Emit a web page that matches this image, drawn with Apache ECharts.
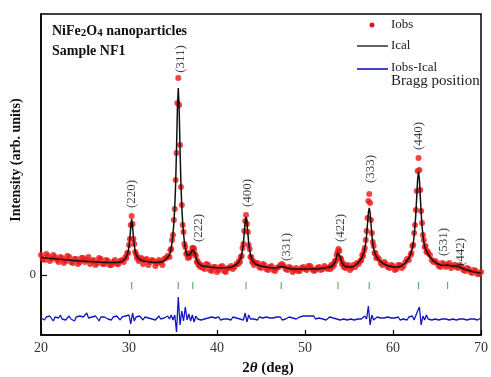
<!DOCTYPE html>
<html>
<head>
<meta charset="utf-8">
<script src="https://cdn.jsdelivr.net/npm/echarts@6/dist/echarts.min.js"></script>
<style>
  html, body { margin: 0; padding: 0; background: #fff; }
  #chart { width: 491px; height: 377px; }
</style>
</head>
<body>
<div id="chart"></div>
<script>
// 2theta grid of the observed / calculated profile (finer around the peaks)
const twoTheta = [
  20.0, 20.2, 20.4, 20.6, 20.8, 21.0, 21.2, 21.4, 21.6, 21.8, 22.0, 22.2, 22.4, 22.6, 22.8, 23.0, 23.2, 23.4, 23.6, 23.8,
  24.0, 24.2, 24.4, 24.6, 24.8, 25.0, 25.2, 25.4, 25.6, 25.8, 26.0, 26.2, 26.4, 26.6, 26.8, 27.0, 27.2, 27.4, 27.6, 27.8,
  28.0, 28.2, 28.4, 28.6, 28.8, 29.0, 29.2,
  29.4, 29.6, 29.7, 29.8, 29.9, 30.0, 30.1, 30.2, 30.3, 30.4, 30.5, 30.6, 30.7, 30.8, 30.9, 31.0, 31.1, 31.2,
  31.4, 31.6, 31.8, 32.0, 32.2, 32.4, 32.6, 32.8, 33.0, 33.2, 33.4, 33.6, 33.8, 34.0, 34.2, 34.4,
  34.6, 34.7, 34.8, 34.9, 35.0, 35.1, 35.2, 35.3, 35.4, 35.5, 35.6, 35.7, 35.8, 35.9, 36.0, 36.1, 36.2, 36.3, 36.4, 36.5,
  36.6, 36.7, 36.8, 36.9, 37.0, 37.1, 37.2, 37.3, 37.4, 37.5, 37.6, 37.7, 37.8, 37.9, 38.0, 38.1, 38.2,
  38.4, 38.6, 38.8, 39.0, 39.2, 39.4, 39.6, 39.8, 40.0, 40.2, 40.4, 40.6, 40.8, 41.0, 41.2, 41.4, 41.6, 41.8, 42.0, 42.2,
  42.4, 42.5, 42.6, 42.7, 42.8, 42.9, 43.0, 43.1, 43.2, 43.3, 43.4, 43.5, 43.6, 43.7, 43.8, 43.9, 44.0, 44.1, 44.2,
  44.4, 44.6, 44.8, 45.0, 45.2, 45.4, 45.6, 45.8, 46.0, 46.2, 46.4, 46.6, 46.8, 47.0, 47.2, 47.4, 47.6, 47.8, 48.0, 48.2,
  48.4, 48.6, 48.8, 49.0, 49.2, 49.4, 49.6, 49.8, 50.0, 50.2, 50.4, 50.6, 50.8, 51.0, 51.2, 51.4, 51.6, 51.8, 52.0, 52.2,
  52.4, 52.6, 52.8,
  52.9, 53.0, 53.1, 53.2, 53.3, 53.4, 53.5, 53.6, 53.7, 53.8, 53.9, 54.0, 54.1, 54.2, 54.3, 54.4, 54.5, 54.6, 54.7,
  54.9, 55.1, 55.3, 55.5, 55.7, 55.9, 56.1, 56.3,
  56.4, 56.5, 56.6, 56.7, 56.8, 56.9, 57.0, 57.1, 57.2, 57.3, 57.4, 57.5, 57.6, 57.7, 57.8, 57.9, 58.0, 58.1, 58.2,
  58.4, 58.6, 58.8, 59.0, 59.2, 59.4, 59.6, 59.8, 60.0, 60.2, 60.4, 60.6, 60.8, 61.0, 61.2, 61.4, 61.6, 61.8, 62.0,
  62.1, 62.2, 62.3, 62.4, 62.5, 62.6, 62.7, 62.8, 62.9, 63.0, 63.1, 63.2, 63.3, 63.4, 63.5, 63.6, 63.7, 63.8, 63.9,
  64.0, 64.2, 64.4, 64.6, 64.8, 65.0, 65.2, 65.4, 65.6, 65.8, 66.0, 66.2, 66.4, 66.6, 66.8, 67.0, 67.2, 67.4, 67.6, 67.8,
  68.0, 68.2, 68.4, 68.6, 68.8, 69.0, 69.2, 69.4, 69.6, 69.8, 70.0
];
const iCal = [
  17.5, 17.4, 17.2, 17.0, 16.8, 16.6, 16.5, 16.3, 16.2, 16.0, 15.8, 15.6, 15.5, 15.3, 15.2, 15.0, 14.9, 14.7, 14.6, 14.4,
  14.3, 14.1, 14.0, 13.9, 13.8, 13.7, 13.6, 13.5, 13.4, 13.3, 13.2, 13.1, 13.0, 12.9, 12.8, 12.7, 12.6, 12.5, 12.5, 12.4,
  12.4, 12.4, 12.5, 12.6, 12.8, 13.1, 13.5,
  14.5, 16.5, 18, 20, 23.5, 28.5, 37, 48, 56, 49, 38, 29.5, 24, 20.5, 18.5, 17, 16, 15.2,
  14.6, 14.2, 13.8, 13.5, 13.2, 13.0, 12.8, 12.6, 12.5, 12.4, 12.4, 12.6, 13.2, 14.5, 15.8, 17.5,
  20, 23, 27, 33, 41, 52, 68, 91, 126, 166, 187, 166, 126, 91, 68, 52, 41, 33, 27, 23,
  20, 19, 19, 20, 21, 23, 25.5, 26.5, 25, 22, 18, 15, 13, 11.5, 10.5, 10, 9.5,
  9.1, 8.8, 8.5, 8.2, 8.0, 7.8, 7.6, 7.5, 7.4, 7.3, 7.2, 7.2, 7.2, 7.3, 7.4, 7.6, 8.0, 8.5, 9.3, 10.5,
  12, 13.5, 15, 17, 20.5, 25.4, 32.5, 42.3, 53, 58, 53, 42.3, 32.5, 25.4, 20.5, 17, 15, 13.5, 12,
  10.8, 10, 9.5, 9, 8.6, 8.2, 7.9, 7.6, 7.4, 7.2, 7.1, 7.0, 7.2, 7.5, 8.3, 9, 8.3, 7.5, 7.0, 6.5,
  6.3, 6.2, 6.1, 6.0, 6.0, 6.0, 6.0, 6.0, 6.0, 6.0, 6.0, 6.0, 6.0, 6.0, 6.1, 6.2, 6.3, 6.5, 6.7, 7.0,
  7.3, 7.8, 8.0,
  8.2, 8.6, 9, 9.6, 10.8, 12.5, 15, 18.5, 22, 24, 22, 18.5, 15, 12.5, 10.8, 9.6, 9, 8.6, 8.2,
  7.9, 7.8, 8.0, 8.5, 9.5, 11, 12.8, 15,
  16, 18, 20, 22.5, 26.5, 32, 40, 51, 62, 67, 62, 51, 40, 32, 26.5, 23, 20.5, 18.5, 17,
  15, 13.3, 12, 10.9, 10, 9.3, 8.8, 8.4, 8, 7.9, 7.8, 8.0, 8.5, 9.3, 10.5, 12, 14, 17, 21,
  24, 27, 31.5, 39, 49, 62, 79, 96, 103, 96, 79, 62, 49, 40, 33, 29, 26, 24, 22,
  20, 18, 16, 14, 12.6, 11.5, 10.6, 10, 9.7, 9.5, 9.7, 10, 9.6, 9.1, 8.9, 9, 9.1, 8.5, 7.8, 7,
  6.2, 5.5, 5, 4.5, 4, 3.5, 3.1, 2.8, 2.5, 2.2, 2
];
const iObs = [
  20, 16, 15, 21, 19, 14, 16, 20, 18, 15, 13, 18, 17, 12, 14, 19, 18, 13, 12, 16,
  16, 11, 13, 17, 17, 13, 15, 18, 11, 14, 15, 10, 12, 17, 16, 11, 11, 15, 14, 10,
  10, 13, 15, 11, 11, 14, 15,
  13, 18, 17, 22, 22, 30, 36, 50, 59, 51, 36, 31, 23, 21, 17, 18, 14, 16,
  17, 11, 15, 16, 10, 13, 15, 14, 9, 12, 15, 13, 10, 16, 17, 19,
  18, 25, 26, 35, 40, 55, 66, 95, 122, 172, 197, 170, 130, 88, 70, 50, 43, 31, 28, 21,
  22, 17, 19, 18, 22, 22, 27, 27, 26, 21, 19, 13, 14, 10, 11, 8, 10,
  7, 6, 11, 10, 5, 4, 8, 8, 3, 5, 8, 9, 4, 3, 7, 7, 9, 6, 8, 11,
  11, 14, 13, 18, 19, 27, 31, 44, 54, 60, 51, 43, 30, 26, 18, 18, 13, 14, 10,
  12, 12, 8, 7, 11, 10, 6, 5, 8, 9, 5, 4, 7, 8, 10, 11, 9, 6, 5, 8,
  7, 3, 5, 7, 4, 4, 7, 8, 6, 5, 9, 9, 6, 4, 5, 7, 8, 5, 6, 9,
  7, 6, 8,
  6, 10, 8, 11, 10, 14, 14, 20, 23, 26, 24, 17, 16, 11, 12, 8, 10, 7, 9,
  10, 5, 7, 10, 8, 12, 11, 14,
  15, 20, 19, 24, 27, 35, 44, 57, 74, 81, 72, 55, 42, 33, 29, 22, 22, 17, 18,
  16, 12, 10, 13, 11, 8, 7, 10, 9, 5, 6, 10, 10, 7, 9, 13, 16, 15, 20,
  22, 29, 30, 42, 50, 65, 84, 104, 117, 105, 85, 64, 52, 40, 35, 28, 29, 23, 24,
  22, 20, 15, 13, 14, 12, 9, 8, 12, 11, 8, 10, 12, 7, 9, 10, 8, 7, 10, 8,
  5, 4, 7, 6, 3, 2, 5, 4, 1, 1, 3
];

// difference curve (offset below zero), one value every 0.2 deg from 20 to 70
const diffStart = 20;
const diffStep = 0.2;
const iDiff = [
  -43, -41, -45, -42, -44, -41, -43, -46, -42, -44,
  -43, -40, -44, -42, -45, -43, -41, -44, -43, -46,
  -42, -44, -41, -43, -42, -40, -38, -43, -45, -42,
  -44, -41, -43, -46, -42, -44, -42, -40, -44, -43,
  -45, -42, -44, -41, -43, -45, -42, -44, -41, -43,
  -40, -49, -38, -46, -42, -44, -41, -43, -45, -42,
  -44, -43, -41, -44, -42, -45, -43, -41, -44, -42,
  -43, -45, -41, -44, -40, -45, -40, -57, -22, -50,
  -36, -46, -32, -45, -39, -46, -40, -47, -41, -44,
  -42, -45, -43, -44, -42, -43, -45, -42, -44, -43,
  -44, -42, -45, -43, -44, -42, -44, -43, -45, -42,
  -44, -43, -41, -44, -42, -45, -38, -47, -40, -44,
  -42, -44, -43, -45, -42, -44, -43, -45, -42, -44,
  -43, -45, -43, -44, -42, -44, -42, -45, -43, -44,
  -43, -42, -44, -43, -42, -44, -43, -42, -43, -41,
  -40, -41, -42, -41, -43, -41, -44, -42, -43, -41,
  -44, -42, -45, -43, -42, -44, -43, -41, -44, -42,
  -45, -43, -44, -42, -45, -43, -44, -42, -45, -43,
  -44, -42, -44, -43, -41, -44, -31, -50, -40, -45,
  -46, -42, -44, -43, -45, -43, -44, -42, -44, -43,
  -45, -43, -44, -42, -45, -43, -44, -43, -45, -42,
  -44, -41, -45, -44, -36, -32, -50, -41, -45, -40,
  -44, -42, -45, -43, -44, -42, -45, -43, -44, -42,
  -44, -43, -45, -43, -44, -42, -45, -43, -44, -42,
  -44, -43, -45, -43, -44, -42, -44, -43, -45, -44,
  -43
];

// Bragg reflections
const braggPos = [30.3, 35.6, 37.25, 43.3, 47.3, 53.75, 57.3, 62.9, 66.2];
const braggLevel = -10.5;

// hkl labels and where they sit
const hklNames = ['(220)', '(311)', '(222)', '(400)', '(331)', '(422)', '(333)', '(440)', '(531)', '(442)'];
const hklX = [30.34, 35.84, 37.87, 43.48, 47.87, 54.04, 57.45, 62.92, 65.73, 67.64];
const hklY = [81, 216, 47, 82, 28, 47, 106, 139, 33, 23];

const xTicks = [20, 30, 40, 50, 60, 70];

const serif = '"Liberation Serif", "Times New Roman", serif';

const chart = echarts.init(document.getElementById('chart'));

const option = {
  animation: false,
  backgroundColor: '#fff',
  grid: {
    left: 41, right: 5, top: 14, bottom: 42,
    show: true, borderColor: '#000', borderWidth: 1.5,
  },
  xAxis: {
    type: 'value',
    min: xTicks[0],
    max: xTicks[xTicks.length - 1],
    interval: 10,
    axisLine: { onZero: false, lineStyle: { color: '#000', width: 1.5 } },
    axisTick: { inside: true, length: 5, lineStyle: { color: '#000', width: 1.2 } },
    axisLabel: { color: '#333', fontFamily: serif, fontSize: 14, margin: 6 },
    splitLine: { show: false },
  },
  yAxis: {
    type: 'value',
    min: -60,
    max: 261,
    axisLine: { show: true, onZero: false, lineStyle: { color: '#000', width: 1.5 } },
    axisTick: { inside: true, length: 6, customValues: [0], lineStyle: { color: '#000', width: 1.2 } },
    axisLabel: { customValues: [0], color: '#333', fontFamily: serif, fontSize: 13, margin: 5 },
    splitLine: { show: false },
  },
  series: [
    {
      name: 'Iobs',
      type: 'scatter',
      symbolSize: 6,
      itemStyle: { color: '#ec1616' },
      data: twoTheta.map((x, i) => [x, iObs[i]]),
      z: 2,
    },
    {
      name: 'Ical',
      type: 'line',
      showSymbol: false,
      lineStyle: { color: '#111', width: 1.5 },
      data: twoTheta.map((x, i) => [x, iCal[i]]),
      z: 3,
    },
    {
      name: 'Iobs-Ical',
      type: 'line',
      showSymbol: false,
      lineStyle: { color: '#1414c8', width: 1.3 },
      data: iDiff.map((v, i) => [+(diffStart + i * diffStep).toFixed(1), v]),
      z: 3,
    },
    {
      name: 'Bragg position',
      type: 'scatter',
      symbol: 'rect',
      symbolSize: [1.2, 7],
      itemStyle: { color: '#3c9a3c' },
      data: braggPos.map((x) => [x, braggLevel]),
      z: 3,
    },
    {
      name: 'hkl',
      type: 'scatter',
      symbolSize: 0,
      silent: true,
      data: hklX.map((x, i) => ({ value: [x, hklY[i]], name: hklNames[i] })),
      label: {
        show: true,
        position: 'inside',
        rotate: 90,
        formatter: (p) => p.name,
        fontFamily: serif,
        fontSize: 13,
        color: '#111',
      },
      z: 4,
    },
  ],
  graphic: [
    {
      type: 'text', left: 52, top: 24,
      style: {
        text: '{b|NiFe}{s|2}{b|O}{s|4}{b| nanoparticles}',
        rich: {
          b: { fontFamily: serif, fontWeight: 'bold', fontSize: 14, fill: '#111' },
          s: { fontFamily: serif, fontWeight: 'bold', fontSize: 11, fill: '#111', padding: [4, 0, 0, 0] },
        },
      },
    },
    {
      type: 'text', left: 52, top: 44,
      style: { text: 'Sample NF1', fontFamily: serif, fontWeight: 'bold', fontSize: 14, fill: '#111' },
    },
    // legend
    { type: 'circle', shape: { cx: 372, cy: 25, r: 2.5 }, style: { fill: '#e01818' } },
    { type: 'line', shape: { x1: 357, y1: 46, x2: 388, y2: 46 }, style: { stroke: '#222', lineWidth: 1.4 } },
    { type: 'line', shape: { x1: 357, y1: 69, x2: 388, y2: 69 }, style: { stroke: '#1414c8', lineWidth: 1.6 } },
    { type: 'text', left: 391, top: 18, style: { text: 'Iobs', fontFamily: serif, fontSize: 13, fill: '#222' } },
    { type: 'text', left: 391, top: 39, style: { text: 'Ical', fontFamily: serif, fontSize: 13, fill: '#222' } },
    { type: 'text', left: 391, top: 61, style: { text: 'Iobs-Ical', fontFamily: serif, fontSize: 13, fill: '#222' } },
    { type: 'text', left: 391, top: 74, style: { text: 'Bragg position', fontFamily: serif, fontSize: 15, fill: '#222' } },
    // axis titles
    {
      type: 'text', x: 16, y: 160, rotation: Math.PI / 2,
      style: {
        text: 'Intensity (arb. units)', fontFamily: serif, fontWeight: 'bold', fontSize: 14, fill: '#111',
        align: 'center', verticalAlign: 'middle',
      },
    },
    {
      type: 'text', x: 268, y: 368,
      style: {
        text: '{n|2}{t|θ}{n| (deg)}',
        align: 'center', verticalAlign: 'middle',
        rich: {
          n: { fontFamily: serif, fontWeight: 'bold', fontSize: 15, fill: '#111' },
          t: { fontFamily: serif, fontWeight: 'bold', fontStyle: 'italic', fontSize: 15, fill: '#111' },
        },
      },
    },
  ],
};

chart.setOption(option);
</script>
</body>
</html>
